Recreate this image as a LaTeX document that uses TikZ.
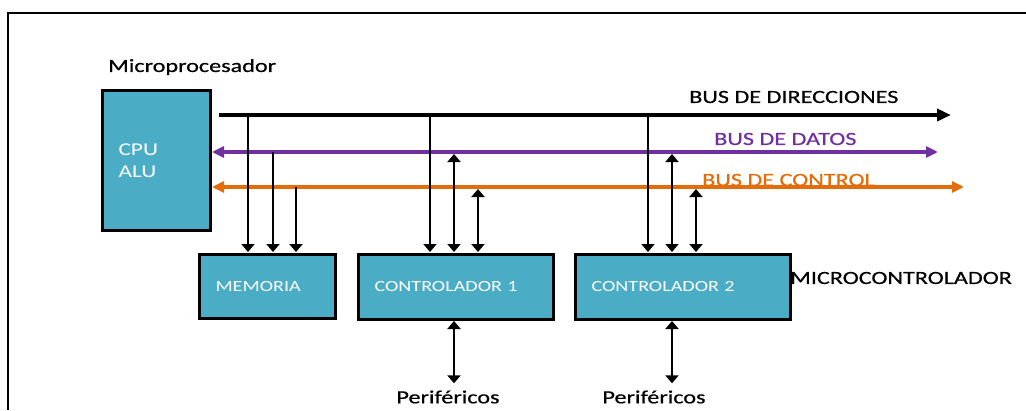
\documentclass[tikz,border=0pt]{standalone}
\usepackage{fontspec}
\setmainfont{Carlito}
\usetikzlibrary{arrows.meta,calc}
\definecolor{boxteal}{HTML}{4BACC6}
\definecolor{buspurple}{HTML}{7030A0}
\definecolor{busorange}{HTML}{E46C0A}
\newfontfamily\widefont[FakeStretch=1.3, FakeBold=0.5]{Carlito}
\newfontfamily\boxfont[FakeStretch=1.3]{Carlito}
\tikzset{
  unit/.style={draw=black, line width=3pt, fill=boxteal, text=white,
    anchor=north west, inner xsep=16pt, inner ysep=0pt, align=left,
    font=\boxfont\fontsize{15.5}{19}\selectfont},
  tip/.style={-{Triangle[length=8pt,width=13pt]}},
  dtip/.style={{Triangle[length=8pt,width=13pt]}-{Triangle[length=8pt,width=13pt]}},
  bustip/.style={{Triangle[length=12pt,width=11pt]}-{Triangle[length=12pt,width=11pt]}},
  tap/.style={line width=1.8pt},
  heavytap/.style={line width=2.4pt},
  caption/.style={font=\widefont\fontsize{18.6}{20}\selectfont, inner sep=0pt},
}
\begin{document}
\begin{tikzpicture}[x=1pt,y=-1pt]
\useasboundingbox (0,0) rectangle (1026,410);
% frame
\draw[line width=1.6pt] (8,410) -- (8,13) -- (1026,13);

% processor
\node[caption, anchor=west] (mplabel) at (108,67) {Microprocesador};
\node[unit, font=\boxfont\fontsize{18}{22}\selectfont, text width=76pt, minimum height=140pt] (cpu) at (101,89) {CPU\\ALU};

% peripheral blocks
\node[unit, text width=104pt, minimum height=64pt] (mem) at (198,253) {MEMORIA};
\node[unit, text width=163pt, minimum height=65pt] (c1) at (357,253) {CONTROLADOR 1};
\node[unit, text width=183pt, minimum height=65pt] (c2) at (574,253) {CONTROLADOR 2};
\node[caption, anchor=west] (mc) at (790,278) {MICROCONTROLADOR};

% buses
\coordinate (aL) at (219,115);
\coordinate (aR) at (951,115);
\coordinate (dR) at (938,152);
\coordinate (cR) at (964,187);
\draw[-{Triangle[length=14pt,width=12pt]}, line width=3.5pt, black] (aL) -- (aR);
\draw[bustip, line width=4.5pt, buspurple] (dR) -- (cpu.east |- dR);
\draw[bustip, line width=4pt, busorange] (cR) -- (cpu.east |- cR);
\node[caption, anchor=west] (la) at (689,97) {BUS DE DIRECCIONES};
\node[caption, anchor=west, text=buspurple] (ld) at (714,139) {BUS DE DATOS};
\node[caption, anchor=west, text=busorange] (lc) at (702,180) {BUS DE CONTROL};

% taps into memory
\coordinate (m1) at (248,252);
\coordinate (m2) at (273,252);
\coordinate (m3) at (296,252);
\draw[tap, tip] (m1 |- aL) -- (m1);
\draw[tap, tip] (m2 |- dR) -- (m2);
\draw[heavytap, tip] (m3 |- cR) -- (m3);

% taps into controller 1
\coordinate (p1) at (430,252);
\coordinate (p2) at (454,252);
\coordinate (p3) at (478,252);
\draw[tap, tip] (p1 |- aL) -- (p1);
\draw[tap, dtip] ($(p2 |- dR)+(0,2)$) -- (p2);
\draw[heavytap, dtip] ($(p3 |- cR)+(0,2)$) -- (p3);

% taps into controller 2
\coordinate (q1) at (648,252);
\coordinate (q2) at (672,252);
\coordinate (q3) at (696,252);
\draw[tap, tip] (q1 |- aL) -- (q1);
\draw[tap, dtip] ($(q2 |- dR)+(0,2)$) -- (q2);
\draw[heavytap, dtip] ($(q3 |- cR)+(0,2)$) -- (q3);

% peripherals
\node[caption] (per1) at (448,397) {Periféricos};
\node[caption] (per2) at (654,397) {Periféricos};
\draw[heavytap, dtip] (c1.south -| p2) -- ($(per1.north -| p2)+(0,-7)$);
\draw[heavytap, dtip] (c2.south -| q2) -- ($(per2.north -| q2)+(0,-7)$);
\end{tikzpicture}
\end{document}
